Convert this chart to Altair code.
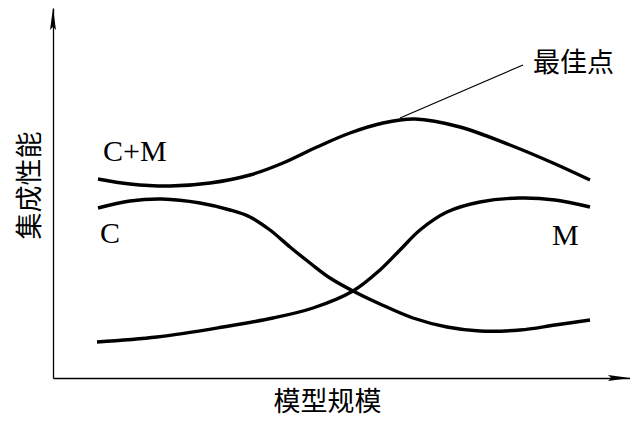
import altair as alt
import pandas as pd

# --- data (arbitrary units: x 0..144.25, y 0..92.5) ---
cm_x = [11.25, 19.25, 29.25, 39.25, 49.25, 57.5, 66, 74.25, 82.5, 90.5, 101.75, 114.25, 125, 134.25]
cm_y = [49.75, 48.5, 48, 48.75, 50.75, 53.75, 57.75, 61.25, 63.75, 64.75, 62.75, 58.25, 53.75, 49.5]

c_x = [11.25, 19.25, 27.25, 36.75, 44.25, 49.25, 54.25, 59.25, 64.25, 69.25, 75, 81.75, 90, 98.5, 106.75, 116.75, 125.5, 134.25]
c_y = [42.5, 44.25, 44.75, 43.75, 42, 40.25, 37, 32.75, 28.75, 25, 21.75, 18.5, 15, 12.75, 11.75, 12, 13.25, 14.5]

m_x = [11, 26, 42.5, 55, 65, 75, 81.75, 86.75, 91.75, 98.5, 106.75, 116.75, 125.5, 134.25]
m_y = [9, 10.25, 12.75, 15, 17.5, 21.75, 27, 32, 37, 41.5, 44, 45, 44.5, 42.75]

series_labels = ["C+M", "C", "M"]
label_x = [12.5, 11.75, 124.75]
label_y = [54.25, 33.75, 33.25]

best_text = "最佳点"
leader_x = [86.75, 117.5]
leader_y = [65, 78.25]
best_x = 120
best_y = 78.6

x_title = "模型规模"
y_title = "集成性能"

X_DOMAIN = [0, 144.25]
Y_DOMAIN = [0, 92.5]

rows = []
for name, xs_, ys_ in [("C+M", cm_x, cm_y), ("C", c_x, c_y), ("M", m_x, m_y)]:
    for i, (xv, yv) in enumerate(zip(xs_, ys_)):
        rows.append({"series": name, "order": i, "x": xv, "y": yv})
curves = pd.DataFrame(rows)

labels = pd.DataFrame({"text": series_labels, "x": label_x, "y": label_y})
leader = pd.DataFrame({"x": leader_x, "y": leader_y, "order": [0, 1]})
best = pd.DataFrame({"text": [best_text], "x": [best_x], "y": [best_y]})
arrow_up = pd.DataFrame({"x": [X_DOMAIN[0]], "y": [Y_DOMAIN[1]]})
arrow_right = pd.DataFrame({"x": [X_DOMAIN[1]], "y": [Y_DOMAIN[0]]})

xs = alt.Scale(domain=X_DOMAIN, nice=False, zero=False)
ys = alt.Scale(domain=Y_DOMAIN, nice=False, zero=False)

x_axis = alt.Axis(
    title=x_title, labels=False, ticks=False, grid=False,
    domainColor="black", domainWidth=1.3,
    titleFont="Noto Sans CJK SC", titleFontSize=27, titleFontWeight="normal",
    titleColor="black", titleAlign="center", titleBaseline="middle",
    titleX=274, titleY=24,
)
y_axis = alt.Axis(
    title=y_title, labels=False, ticks=False, grid=False,
    domainColor="black", domainWidth=1.3,
    titleFont="Noto Sans CJK SC", titleFontSize=27, titleFontWeight="normal",
    titleColor="black", titleAngle=270, titleAlign="center", titleBaseline="middle",
    titleX=-23, titleY=177,
)

lines = alt.Chart(curves).mark_line(
    color="black", strokeWidth=3.4, interpolate="catmull-rom"
).encode(
    x=alt.X("x:Q", scale=xs, axis=x_axis),
    y=alt.Y("y:Q", scale=ys, axis=y_axis),
    detail="series:N",
    order="order:Q",
)

leader_line = alt.Chart(leader).mark_line(color="black", strokeWidth=1.2).encode(
    x=alt.X("x:Q", scale=xs), y=alt.Y("y:Q", scale=ys), order="order:Q"
)

label_text = alt.Chart(labels).mark_text(
    font="Liberation Serif", fontSize=30, align="left", baseline="alphabetic", color="black"
).encode(x=alt.X("x:Q", scale=xs), y=alt.Y("y:Q", scale=ys), text="text:N")

best_label = alt.Chart(best).mark_text(
    font="Noto Sans CJK SC", fontSize=27, align="left", baseline="middle", color="black"
).encode(x=alt.X("x:Q", scale=xs), y=alt.Y("y:Q", scale=ys), text="text:N")

up = alt.Chart(arrow_up).mark_point(
    shape="M0,0L0.27,2L0,1.7L-0.27,2Z", size=484, filled=True, color="black", opacity=1
).encode(x=alt.X("x:Q", scale=xs), y=alt.Y("y:Q", scale=ys))

right = alt.Chart(arrow_right).mark_point(
    shape="M0,0L-2,-0.27L-1.7,0L-2,0.27Z", size=484, filled=True, color="black", opacity=1
).encode(x=alt.X("x:Q", scale=xs), y=alt.Y("y:Q", scale=ys))

chart = alt.layer(lines, leader_line, label_text, best_label, up, right).properties(
    width=577,
    height=370,
    autosize=alt.AutoSizeParams(type="none"),
    padding={"left": 45, "top": 0, "right": 0, "bottom": 41},
    background="white",
).configure_view(stroke=None)

chart.save("out.html", embed_options={"renderer": "svg", "actions": False})
